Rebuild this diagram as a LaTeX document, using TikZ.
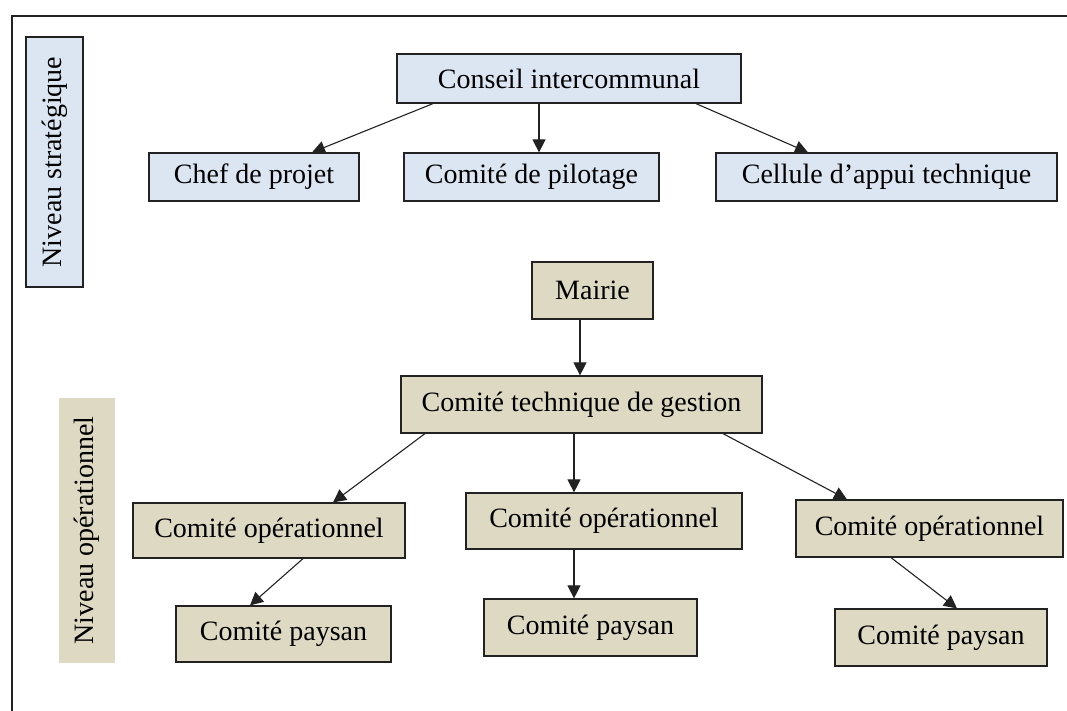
\documentclass[tikz,border=0pt]{standalone}
\usepackage{fontspec}
\setmainfont{Liberation Serif}
\usetikzlibrary{arrows.meta}
\definecolor{boxblue}{HTML}{DCE6F2}
\definecolor{boxbeige}{HTML}{DDD9C3}
\definecolor{edge}{HTML}{222222}
\tikzset{
  base/.style={rectangle, inner sep=0pt, font=\fontsize{28}{32}\selectfont, text=black},
  bluebox/.style={base, draw=edge, line width=1.2pt, fill=boxblue},
  beigebox/.style={base, draw=edge, line width=1.2pt, fill=boxbeige},
  levelbeige/.style={base, fill=boxbeige, rotate=90},
  levelblue/.style={base, draw=edge, line width=1.2pt, fill=boxblue, rotate=90},
  link/.style={draw=edge, line width=1.1pt, -{Triangle[length=13pt,width=13pt]}},
  frame/.style={draw=edge, line width=1.3pt}
}
\begin{document}
\begin{tikzpicture}[x=1pt,y=-1pt]
\useasboundingbox (0,0) rectangle (1067,711);
% outer frame (left and top only visible)
\coordinate (ftr) at (1067,16);
\coordinate (ftl) at (12,16);
\coordinate (fbl) at (12,711);
\draw[frame] (ftr) -- (ftl) -- (fbl);

% level labels
\node[levelblue, minimum width=250pt, minimum height=57pt] (nivS) at (54.5,162) {Niveau stratégique};
\node[levelbeige, minimum width=265pt, minimum height=56pt] (nivO) at (87,530.5) {Niveau opérationnel};

% strategic level
\node[bluebox, minimum width=344pt, minimum height=49pt] (cons) at (569,78.5) {Conseil intercommunal};
\node[bluebox, minimum width=210pt, minimum height=48pt] (chef) at (254,177) {Chef de projet};
\node[bluebox, minimum width=255pt, minimum height=48pt] (pil) at (531.5,177) {Comité de pilotage};
\node[bluebox, minimum width=341pt, minimum height=48pt] (cell) at (886.5,177) {Cellule d’appui technique};

% operational level
\node[beigebox, minimum width=121pt, minimum height=57pt] (mairie) at (592.5,290.5) {Mairie};
\node[beigebox, minimum width=361pt, minimum height=57pt] (ctg) at (581.5,404.5) {Comité technique de gestion};
\node[beigebox, minimum width=272pt, minimum height=55pt] (co1) at (269,530.5) {Comité opérationnel};
\node[beigebox, minimum width=276pt, minimum height=56pt] (co2) at (604,521) {Comité opérationnel};
\node[beigebox, minimum width=267pt, minimum height=57pt] (co3) at (929.5,528.5) {Comité opérationnel};
\node[beigebox, minimum width=215pt, minimum height=56pt] (cp1) at (283.5,634) {Comité paysan};
\node[beigebox, minimum width=213pt, minimum height=57pt] (cp2) at (590.5,627.5) {Comité paysan};
\node[beigebox, minimum width=212pt, minimum height=57pt] (cp3) at (941,637.5) {Comité paysan};

% connectors
\draw[link] ([xshift=-136pt]cons.south) -- ([xshift=58pt]chef.north);
\draw[link] ([xshift=-30pt]cons.south) -- ([xshift=7.5pt]pil.north);
\draw[link] ([xshift=127pt]cons.south) -- ([xshift=-78.5pt]cell.north);
\draw[link] ([xshift=-12.5pt]mairie.south) -- ([xshift=-1.5pt]ctg.north);
\draw[link] ([xshift=-156.5pt]ctg.south) -- ([xshift=64pt]co1.north);
\draw[link] ([xshift=-7.5pt]ctg.south) -- ([xshift=-30pt]co2.north);
\draw[link] ([xshift=141.5pt]ctg.south) -- ([xshift=-82.5pt]co3.north);
\draw[link] ([xshift=34pt]co1.south) -- ([xshift=-33.5pt]cp1.north);
\draw[link] ([xshift=-30pt]co2.south) -- ([xshift=-16.5pt]cp2.north);
\draw[link] ([xshift=-38.5pt]co3.south) -- ([xshift=16pt]cp3.north);
\end{tikzpicture}
\end{document}
